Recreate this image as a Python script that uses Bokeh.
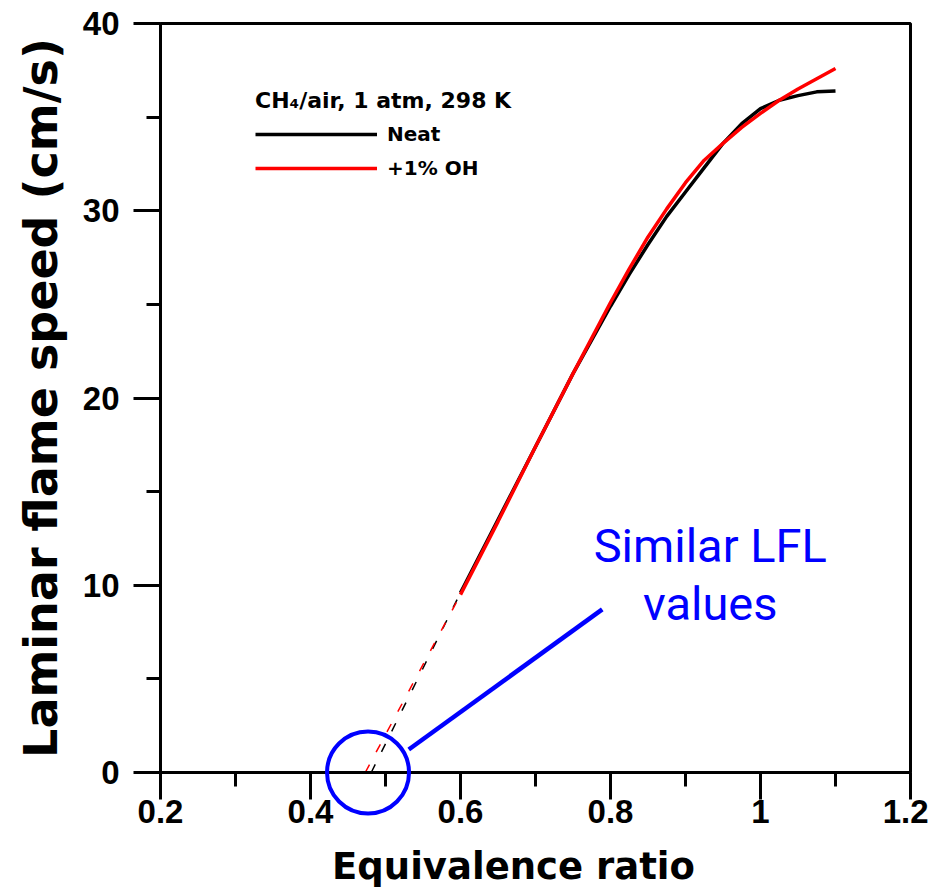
from bokeh.plotting import figure
from bokeh.models import (Range1d, FixedTicker, Legend, LegendItem)
from bokeh.core.properties import value
from bokeh.embed import file_html
from bokeh.resources import INLINE

# ---------------- data ----------------
phi = [0.60, 0.65, 0.70, 0.75, 0.80, 0.825, 0.85, 0.875, 0.90, 0.925, 0.95,
       0.975, 1.00, 1.025, 1.05, 1.075, 1.10]
neat = [9.6, 13.5, 17.4, 21.3, 24.9, 26.6, 28.2, 29.7, 31.0, 32.3, 33.6,
        34.65, 35.45, 35.9, 36.15, 36.35, 36.4]
oh = [9.5, 13.4, 17.4, 21.3, 25.1, 26.9, 28.6, 30.1, 31.5, 32.7, 33.6,
      34.45, 35.2, 35.9, 36.5, 37.05, 37.6]
lfl_neat = 0.481   # extrapolated phi at zero flame speed
lfl_oh = 0.473

x_ticks = [0.2, 0.4, 0.6, 0.8, 1.0, 1.2]
x_tick_labels = ["0.2", "0.4", "0.6", "0.8", "1", "1.2"]
x_minor = [0.3, 0.5, 0.7, 0.9, 1.1]
y_ticks = [0, 10, 20, 30, 40]
y_tick_labels = ["0", "10", "20", "30", "40"]
y_minor = [5, 15, 25, 35]

x_title = "Equivalence ratio"
y_title = "Laminar flame speed (cm/s)"
legend_title = "CH\u2084/air, 1 atm, 298 K"
series_labels = ["Neat", "+1% OH"]
note_lines = ["Similar LFL", "values"]

# annotation geometry (data units)
circ_cx, circ_cy = 0.4767, 0.0
pointer_x = [0.531, 0.789]
pointer_y = [1.23, 8.71]
note_x = 0.933
note_y = [12.1, 9.05]
x_title_pos = (0.6707, -5.0)

BOLD = "Liberation Sans"
WIDE = "DejaVu Sans"

p = figure(frame_width=750, frame_height=749,
           min_border_left=160, min_border_right=18, min_border_top=23,
           min_border_bottom=117,
           x_range=Range1d(0.2, 1.2), y_range=Range1d(0, 40),
           output_backend="svg", toolbar_location=None)
p.background_fill_color = "white"
p.border_fill_color = "white"
p.grid.visible = False
p.outline_line_color = "black"
p.outline_line_width = 3

p.xaxis.ticker = FixedTicker(ticks=x_ticks, minor_ticks=x_minor)
p.yaxis.ticker = FixedTicker(ticks=y_ticks, minor_ticks=y_minor)
p.xaxis.major_label_overrides = {t: l for t, l in zip(x_ticks, x_tick_labels)}
p.yaxis.major_label_overrides = {t: l for t, l in zip(y_ticks, y_tick_labels)}

for ax in (p.xaxis, p.yaxis):
    ax.axis_line_width = 3
    ax.axis_line_color = "black"
    ax.major_tick_line_width = 3
    ax.minor_tick_line_width = 3
    ax.major_tick_out = 27
    ax.major_tick_in = 0
    ax.minor_tick_out = 14
    ax.minor_tick_in = 0
    ax.major_label_text_font = BOLD
    ax.major_label_text_font_style = "bold"
    ax.major_label_text_font_size = "33px"
    ax.major_label_text_color = "black"
    ax.axis_label_text_font = WIDE
    ax.axis_label_text_font_style = "bold"
    ax.axis_label_text_color = "black"

p.xaxis.major_label_standoff = 0
p.yaxis.axis_label = y_title
p.yaxis.axis_label_text_font_size = "46px"
p.yaxis.major_label_standoff = 14
p.yaxis.axis_label_standoff = 12

# x title drawn as an unclipped overlay text
t_x = p.text(x=[x_title_pos[0]], y=[x_title_pos[1]], text=[x_title],
             text_font=value(WIDE), text_font_style="bold",
             text_font_size="37px", text_color="black",
             text_align="center", text_baseline="middle")
t_x.level = "overlay"

# dashed extrapolations to zero flame speed
p.line([lfl_neat, phi[0]], [0, neat[0]], line_color="black", line_width=1.5,
       line_dash="9 14")
p.line([lfl_oh, phi[0]], [0, oh[0]], line_color="red", line_width=1.5,
       line_dash="9 14")

r_neat = p.line(phi, neat, line_color="black", line_width=3.5)
r_oh = p.line(phi, oh, line_color="red", line_width=3.5)

legend = Legend(items=[LegendItem(label=series_labels[0], renderers=[r_neat]),
                       LegendItem(label=series_labels[1], renderers=[r_oh])],
                location=(95, 592), title=legend_title,
                title_text_font=WIDE, title_text_font_style="bold",
                title_text_font_size="22px", title_standoff=9,
                title_text_color="black",
                label_text_font=WIDE, label_text_font_style="bold",
                label_text_font_size="20px", label_standoff=10,
                label_text_color="black",
                glyph_width=122, glyph_height=20, label_height=20, spacing=10,
                padding=0, margin=0, border_line_color=None,
                background_fill_alpha=0)
p.add_layout(legend)

# annotation: circle, pointer line and note
circ = p.scatter([circ_cx], [circ_cy], marker="circle", size=82,
                 fill_color=None, line_color="blue", line_width=4)
circ.level = "overlay"
p.line(pointer_x, pointer_y, line_color="blue", line_width=4.5)
p.text(x=[note_x, note_x], y=note_y, text=note_lines,
       text_font=value("Roboto"), text_font_size="47px", text_color="blue",
       text_align="center", text_baseline="alphabetic")

open("out.html", "w").write(file_html(p, INLINE))
